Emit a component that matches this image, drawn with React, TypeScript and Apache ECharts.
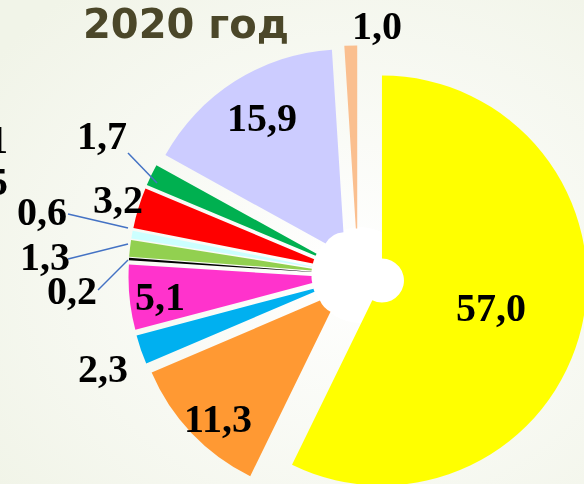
import React, { useEffect, useRef } from "react";
import * as echarts from "echarts";

// ---- data ----
const titleText = "2020 год";
const sliceNames = [
  "Сектор 1", "Сектор 2", "Сектор 3", "Сектор 4", "Сектор 5", "Сектор 6",
  "Сектор 7", "Сектор 8", "Сектор 9", "Сектор 10", "Сектор 11",
];
const sliceValues = [57.0, 11.3, 2.3, 5.1, 0.2, 1.3, 0.6, 3.2, 1.7, 15.9, 1.0];
const sliceColors = [
  "#ffff00", "#ff9933", "#00b0f0", "#ff33cc", "#000000", "#92d050",
  "#ccffff", "#ff0000", "#00b050", "#ccccff", "#fabf8f",
];
// cropped labels of the neighbouring chart at the left edge
const croppedLabels = ["1", "5"];

// ---- layout (label centres and leader lines, in px) ----
const labelCentres: [number, number][] = [
  [491, 307], [218, 418], [103, 368], [160, 296], [72, 290], [45, 256],
  [42, 211], [118, 199], [102, 135], [262, 117], [377, 25],
];
const leaderLines: ([number, number][] | null)[] = [
  null, null, null, null,
  [[98, 290], [128, 260]],
  [[68, 259], [128, 244]],
  [[68, 214], [128, 228]],
  null,
  [[128, 153], [157, 183]],
  null, null,
];
const croppedLabelY = [139, 181];

const fmt = (v: number) => v.toFixed(1).replace(".", ",");
const serif = "'Liberation Serif', 'Times New Roman', serif";

export default function App() {
  const ref = useRef<HTMLDivElement>(null);
  useEffect(() => {
    if (!ref.current) return;
    const chart = echarts.init(ref.current, undefined, { renderer: "svg" });
    const valueLabels = sliceValues.map((v, i) => ({
      type: "text",
      z: 20,
      x: labelCentres[i][0],
      y: labelCentres[i][1],
      silent: true,
      style: {
        text: fmt(v),
        fontFamily: serif,
        fontWeight: "bold",
        fontSize: 40,
        fill: "#000000",
        align: "center",
        verticalAlign: "middle",
      },
    }));
    const leaders = leaderLines
      .filter((l) => l)
      .map((pts) => ({
        type: "polyline",
        z: 15,
        silent: true,
        shape: { points: pts },
        style: { stroke: "#4472c4", lineWidth: 1.5, fill: null },
      }));
    chart.setOption({
      animation: false,
      backgroundColor: new echarts.graphic.RadialGradient(0.6, 0.56, 0.75, [
        { offset: 0, color: "#ffffff" },
        { offset: 1, color: "#f1f4e8" },
      ]),
      graphic: [
        {
          type: "circle",
          z: 0,
          shape: { cx: 360, cy: 275, r: 48 },
          style: { fill: "#ffffff" },
          silent: true,
        },
        {
          type: "text",
          z: 10,
          x: 186,
          y: 24,
          silent: true,
          style: {
            text: titleText,
            fontFamily: "'DejaVu Sans', sans-serif",
            fontWeight: "bold",
            fontSize: 40,
            fill: "#4b4729",
            align: "center",
            verticalAlign: "middle",
          },
        },
        ...croppedLabels.map((t, i) => ({
          type: "text",
          z: 10,
          x: 8,
          y: croppedLabelY[i],
          silent: true,
          style: {
            text: t,
            fontFamily: serif,
            fontWeight: "bold",
            fontSize: 40,
            fill: "#000000",
            align: "right",
            verticalAlign: "middle",
          },
        })),
        ...leaders,
        ...valueLabels,
      ],
      series: [
        {
          type: "pie",
          z: 2,
          center: [358, 275],
          radius: [22, 205],
          startAngle: 90,
          clockwise: true,
          selectedMode: "multiple",
          selectedOffset: 24.6,
          avoidLabelOverlap: false,
          emphasis: { disabled: true },
          silent: true,
          label: { show: false },
          labelLine: { show: false },
          data: sliceValues.map((v, i) => ({
            name: sliceNames[i],
            value: v,
            selected: true,
            itemStyle: { color: sliceColors[i] },
          })),
        },
      ],
    });
    return () => chart.dispose();
  }, []);
  return (
    <div
      ref={ref}
      style={{ position: "fixed", left: 0, top: 0, width: 584, height: 484 }}
    />
  );
}
